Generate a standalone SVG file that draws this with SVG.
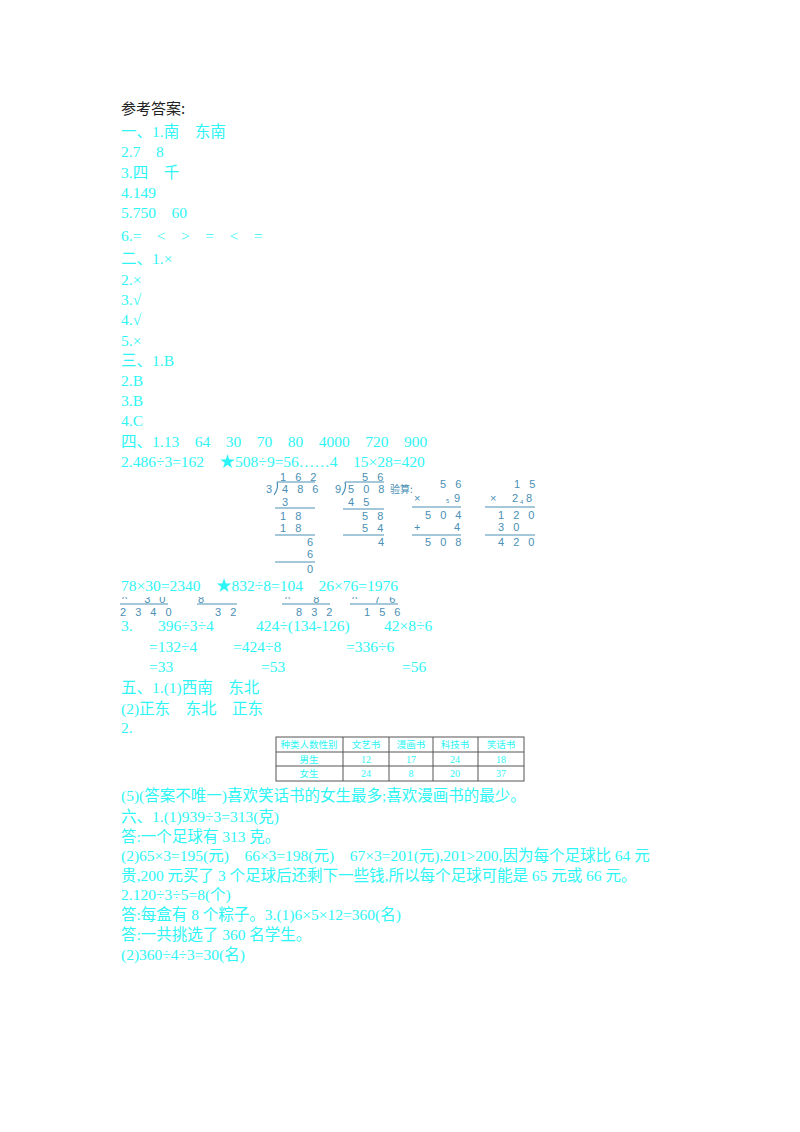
<svg xmlns="http://www.w3.org/2000/svg" width="800" height="1132" viewBox="0 0 800 1132">
<style>
.t{font-family:"Liberation Serif","Noto Sans CJK SC",serif;font-size:15.5px;fill:#2ef5f5}
.k{font-family:"Noto Sans CJK SC",sans-serif;font-size:15px;fill:#222}
.d{font-family:"Liberation Sans",sans-serif;font-size:11px;fill:#4a8fb5;letter-spacing:3px}
.dl{stroke:#4a8fb5;stroke-width:1.2}
.th{font-family:"Noto Sans CJK SC",sans-serif;font-size:9.5px;fill:#2ef5f5;text-anchor:middle}
.tn{font-family:"Liberation Serif",serif;font-size:10px;fill:#2ef5f5;text-anchor:middle}
.g{stroke:#555;stroke-width:1;fill:none}
</style>
<defs><clipPath id="c1"><rect x="100" y="597" width="320" height="30"/></clipPath></defs>
<rect width="800" height="1132" fill="#fff"/>
<g id="text">
<text class="k" x="121" y="114">参考答案:</text>
<text class="t" x="121" y="137">一、1.南　东南</text>
<text class="t" x="121" y="157">2.7　8</text>
<text class="t" x="121" y="178">3.四　千</text>
<text class="t" x="121" y="198">4.149</text>
<text class="t" x="121" y="218">5.750　60</text>
<text class="t" x="121" y="241">6.=　&lt;　&gt;　=　&lt;　=</text>
<text class="t" x="121" y="264">二、1.×</text>
<text class="t" x="121" y="285">2.×</text>
<text class="t" x="121" y="305">3.√</text>
<text class="t" x="121" y="325">4.√</text>
<text class="t" x="121" y="346">5.×</text>
<text class="t" x="121" y="366">三、1.B</text>
<text class="t" x="121" y="386">2.B</text>
<text class="t" x="121" y="406">3.B</text>
<text class="t" x="121" y="426">4.C</text>
<text class="t" x="121" y="447">四、1.13　64　30　70　80　4000　720　900</text>
<text class="t" x="121" y="467">2.486÷3=162　★508÷9=56……4　15×28=420</text>
<text class="t" x="121" y="591">78×30=2340　★832÷8=104　26×76=1976</text>
<text class="t" x="121" y="631">3.</text>
<text class="t" x="158" y="631">396÷3÷4</text>
<text class="t" x="256" y="631">424÷(134-126)</text>
<text class="t" x="384" y="631">42×8÷6</text>
<text class="t" x="149" y="652">=132÷4</text>
<text class="t" x="233" y="652">=424÷8</text>
<text class="t" x="346" y="652">=336÷6</text>
<text class="t" x="149" y="672">=33</text>
<text class="t" x="261" y="672">=53</text>
<text class="t" x="402" y="672">=56</text>
<text class="t" x="121" y="693">五、1.(1)西南　东北</text>
<text class="t" x="121" y="714">(2)正东　东北　正东</text>
<text class="t" x="121" y="733">2.</text>
<text class="t" x="121" y="801">(5)(答案不唯一)喜欢笑话书的女生最多;喜欢漫画书的最少。</text>
<text class="t" x="121" y="822">六、1.(1)939÷3=313(克)</text>
<text class="t" x="121" y="842">答:一个足球有 313 克。</text>
<text class="t" x="121" y="861">(2)65×3=195(元)　66×3=198(元)　67×3=201(元),201&gt;200,因为每个足球比 64 元</text>
<text class="t" x="121" y="881">贵,200 元买了 3 个足球后还剩下一些钱,所以每个足球可能是 65 元或 66 元。</text>
<text class="t" x="121" y="900">2.120÷3÷5=8(个)</text>
<text class="t" x="121" y="920">答:每盒有 8 个粽子。3.(1)6×5×12=360(名)</text>
<text class="t" x="121" y="940">答:一共挑选了 360 名学生。</text>
<text class="t" x="121" y="960">(2)360÷4÷3=30(名)</text>
</g>
<g id="calc">
<text class="d" x="280" y="481">1 6 2</text>
<text class="d" x="266" y="493">3</text><path class="dl" d="M277 482 L315 482 M277 482 Q279 488 274 495" fill="none"/>
<text class="d" x="282" y="493">4 8 6</text>
<text class="d" x="282" y="506">3</text><path class="dl" d="M275 508 H315"/>
<text class="d" x="280" y="520">1 8</text>
<text class="d" x="280" y="532">1 8</text><path class="dl" d="M275 535 H315"/>
<text class="d" x="307" y="546">6</text>
<text class="d" x="307" y="558">6</text><path class="dl" d="M275 562 H315"/>
<text class="d" x="307" y="573">0</text>

<text class="d" x="362" y="481">5 6</text>
<text class="d" x="335" y="493">9</text><path class="dl" d="M345 482 L384 482 M345 482 Q347 488 342 495" fill="none"/>
<text class="d" x="348" y="493">5 0 8</text>
<text class="d" x="390" y="493" style="letter-spacing:0;font-family:'Noto Sans CJK SC',sans-serif;font-size:10px">验算:</text>
<text class="d" x="348" y="506">4 5</text><path class="dl" d="M343 509 H384"/>
<text class="d" x="362" y="520">5 8</text>
<text class="d" x="362" y="532">5 4</text><path class="dl" d="M343 535 H384"/>
<text class="d" x="378" y="546">4</text>

<text class="d" x="440" y="488">5 6</text>
<text class="d" x="414" y="502">×</text><text class="d" x="446" y="503" style="font-size:6px">5</text><text class="d" x="454" y="502">9</text>
<path class="dl" d="M412 507 H461"/>
<text class="d" x="425" y="519">5 0 4</text>
<text class="d" x="414" y="531">+</text><text class="d" x="454" y="531">4</text>
<path class="dl" d="M412 535 H461"/>
<text class="d" x="425" y="546">5 0 8</text>

<text class="d" x="514" y="488">1 5</text>
<text class="d" x="490" y="502">×</text><text class="d" x="512" y="502">2</text><text class="d" x="520" y="504" style="font-size:6px">4</text><text class="d" x="526" y="502">8</text>
<path class="dl" d="M485 507 H535"/>
<text class="d" x="498" y="519">1 2 0</text>
<text class="d" x="498" y="531">3 0</text>
<path class="dl" d="M485 535 H535"/>
<text class="d" x="498" y="546">4 2 0</text>

<g clip-path="url(#c1)">
<text class="d" x="122" y="603">^　3 0</text>
<text class="d" x="198" y="603">8</text>
<text class="d" x="285" y="603">^　 8</text>
<text class="d" x="352" y="603">^　7 6</text>
</g>
<path class="dl" d="M120 604 H168 M197 604 H237 M282 604 H330 M350 604 H398"/>
<text class="d" x="120" y="616">2 3 4 0</text>
<text class="d" x="215" y="616">3 2</text>
<text class="d" x="296" y="616">8 3 2</text>
<text class="d" x="364" y="616">1 5 6</text>
</g>
<g id="table">
<rect class="g" x="276" y="737" width="248" height="44"/>
<path class="g" d="M276 752 H524 M276 766 H524 M343 737 V781 M389 737 V781 M433 737 V781 M478 737 V781"/>
<text class="th" x="309" y="748">种类人数性别</text>
<text class="th" x="366" y="748">文艺书</text>
<text class="th" x="411" y="748">漫画书</text>
<text class="th" x="455" y="748">科技书</text>
<text class="th" x="501" y="748">笑话书</text>
<text class="th" x="309" y="763">男生</text>
<text class="tn" x="366" y="763">12</text><text class="tn" x="411" y="763">17</text><text class="tn" x="455" y="763">24</text><text class="tn" x="501" y="763">18</text>
<text class="th" x="309" y="777">女生</text>
<text class="tn" x="366" y="777">24</text><text class="tn" x="411" y="777">8</text><text class="tn" x="455" y="777">20</text><text class="tn" x="501" y="777">37</text>
</g>
</svg>
